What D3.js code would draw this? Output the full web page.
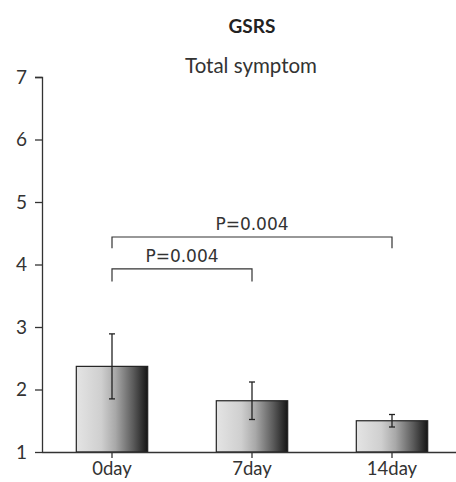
<!DOCTYPE html>
<html><head><meta charset="utf-8">
<script src="https://cdn.jsdelivr.net/npm/d3@7"></script>
<style>body{margin:0;background:#fff;} svg{display:block;}</style>
</head><body>
<script>
const categories = ["0day", "7day", "14day"];
const means = [2.37, 1.82, 1.50];
const errors = [0.52, 0.30, 0.10];
const yTicks = [1, 2, 3, 4, 5, 6, 7];
const brackets = [
  {from: "0day", to: "7day", level: 3.93, drop: 0.2, label: "P=0.004"},
  {from: "0day", to: "14day", level: 4.44, drop: 0.18, label: "P=0.004"}
];
const title = "GSRS";
const subtitle = "Total symptom";

const W = 456, H = 482;
const svg = d3.select("body").append("svg").attr("width", W).attr("height", H);

const defs = svg.append("defs");
const grad = defs.append("linearGradient").attr("id", "barGrad").attr("x1", "0%").attr("x2", "100%").attr("y1", "0%").attr("y2", "0%");
[["0%", "#e4e4e4"], ["35%", "#cfcfcf"], ["55%", "#a8a8a8"], ["80%", "#5a5a5a"], ["100%", "#151515"]]
  .forEach(([o, c]) => grad.append("stop").attr("offset", o).attr("stop-color", c));

const y = d3.scaleLinear().domain([1, 7]).range([452, 77]);
const x = d3.scaleBand().domain(categories).range([42, 462]).paddingInner(0.49).paddingOuter(0.245);

const font = "Lato, 'Open Sans', sans-serif";

// Y axis
const yAxis = d3.axisLeft(y).tickValues(yTicks).tickSize(7).tickPadding(8).tickFormat(d3.format("d"));
const gy = svg.append("g").attr("transform", "translate(42,0)").call(yAxis);
gy.select(".domain").attr("d", "M-7,77.5H0.5V452").attr("stroke", "#333").attr("stroke-width", 1.3);
gy.selectAll(".tick line").attr("stroke", "#333").attr("stroke-width", 1.3);
gy.selectAll(".tick text").attr("font-family", font).attr("font-size", 19).attr("fill", "#333");

// Bars
svg.append("g").selectAll("rect").data(categories).join("rect")
  .attr("x", d => x(d))
  .attr("y", (d, i) => y(means[i]))
  .attr("width", x.bandwidth())
  .attr("height", (d, i) => y(1) - y(means[i]))
  .attr("fill", "url(#barGrad)")
  .attr("stroke", "#222").attr("stroke-width", 1.2);

// X axis
const xAxis = d3.axisBottom(x).tickSize(6).tickPadding(4);
const gx = svg.append("g").attr("transform", "translate(0,452)").call(xAxis);
gx.select(".domain").attr("d", "M42,0.5H456").attr("stroke", "#333").attr("stroke-width", 1.3);
gx.selectAll(".tick line").attr("stroke", "#333").attr("stroke-width", 1.3);
gx.selectAll(".tick text").attr("font-family", font).attr("font-size", 18.5).attr("fill", "#333");

// Error bars
const eb = svg.append("g").attr("stroke", "#222").attr("stroke-width", 1.3);
categories.forEach((c, i) => {
  const cx = x(c) + x.bandwidth() / 2;
  const top = y(means[i] + errors[i]), bot = y(means[i] - errors[i]);
  eb.append("line").attr("x1", cx).attr("x2", cx).attr("y1", top).attr("y2", bot);
  eb.append("line").attr("x1", cx - 3).attr("x2", cx + 3).attr("y1", top).attr("y2", top);
  eb.append("line").attr("x1", cx - 3).attr("x2", cx + 3).attr("y1", bot).attr("y2", bot);
});

// Brackets
const bg = svg.append("g");
brackets.forEach(b => {
  const x1 = x(b.from) + x.bandwidth() / 2, x2 = x(b.to) + x.bandwidth() / 2;
  const yl = y(b.level), yd = y(b.level - b.drop);
  bg.append("path").attr("d", `M${x1},${yd}V${yl}H${x2}V${yd}`)
    .attr("fill", "none").attr("stroke", "#333").attr("stroke-width", 1.2);
  bg.append("text").attr("x", (x1 + x2) / 2).attr("y", yl - 7)
    .attr("text-anchor", "middle").attr("font-family", "'DejaVu Sans', sans-serif")
    .attr("font-size", 17).attr("fill", "#333").text(b.label);
});

// Titles
svg.append("text").attr("x", 252).attr("y", 33).attr("text-anchor", "middle")
  .attr("font-family", font).attr("font-weight", "bold").attr("font-size", 19).attr("fill", "#222").text(title);
svg.append("text").attr("x", 251).attr("y", 73).attr("text-anchor", "middle")
  .attr("font-family", font).attr("font-size", 20.5).attr("fill", "#333").text(subtitle);
</script>
</body></html>
